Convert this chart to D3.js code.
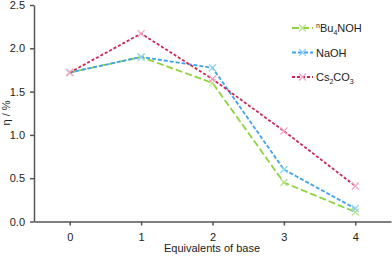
<!DOCTYPE html>
<html>
<head>
<meta charset="utf-8">
<script src="https://cdn.jsdelivr.net/npm/d3@7"></script>
<style>
  body { margin: 0; background: #fff; }
  svg { font-family: "Liberation Sans", Arial, sans-serif; }
  .axis path, .axis line { stroke: #555; stroke-width: 1.5; }
  .axis text { font-size: 11px; fill: #222; }
</style>
</head>
<body>
<svg id="chart" width="392" height="257"></svg>
<script>
// Data
const equivalents = [0, 1, 2, 3, 4];
const bu4noh = [1.72, 1.90, 1.60, 0.45, 0.11];
const naoh = [1.72, 1.90, 1.775, 0.60, 0.15];
const cs2co3 = [1.72, 2.17, 1.645, 1.045, 0.41];
const yTicks = [0, 0.5, 1.0, 1.5, 2.0, 2.5];

const series = [
  { name: "Bu4NOH", values: bu4noh, color: "#8ed43c", marker: "#b8e48a", dash: "7,3" },
  { name: "NaOH", values: naoh, color: "#3ea2ee", marker: "#8fd4f8", dash: "4,2" },
  { name: "Cs2CO3", values: cs2co3, color: "#d22252", marker: "#f2a2c2", dash: "3,2" }
];

const svg = d3.select("#chart");

// Scales
const x = d3.scaleLinear().domain([-0.5, 4.5]).range([34, 391]);
const y = d3.scaleLinear().domain([0, 2.5]).range([221.5, 5]);

// Axes
svg.append("g")
  .attr("class", "axis")
  .attr("transform", `translate(0,${y(0)})`)
  .call(d3.axisBottom(x).tickValues(equivalents).tickFormat(d3.format("d")).tickSize(4).tickSizeOuter(0).tickPadding(8));

svg.append("g")
  .attr("class", "axis")
  .attr("transform", `translate(${x(-0.5)},0)`)
  .call(d3.axisLeft(y).tickValues(yTicks).tickFormat(d3.format(".1f")).tickSize(4).tickSizeOuter(0).tickPadding(5));

// Axis titles
svg.append("text")
  .attr("x", 212)
  .attr("y", 252)
  .attr("text-anchor", "middle")
  .attr("font-size", 11)
  .attr("fill", "#222")
  .text("Equivalents of base");

svg.append("text")
  .attr("transform", "translate(10,113) rotate(-90)")
  .attr("text-anchor", "middle")
  .attr("font-size", 11)
  .attr("fill", "#222")
  .text("η / %");

// Lines and markers
const line = d3.line()
  .x((d, i) => x(equivalents[i]))
  .y(d => y(d));

const cross = 3.5;

series.forEach(s => {
  svg.append("path")
    .datum(s.values)
    .attr("fill", "none")
    .attr("stroke", s.color)
    .attr("stroke-width", 1.8)
    .attr("stroke-dasharray", s.dash)
    .attr("d", line);

  const g = svg.append("g");
  s.values.forEach((v, i) => {
    const cx = x(equivalents[i]), cy = y(v);
    g.append("path")
      .attr("d", `M${cx - cross},${cy - cross}L${cx + cross},${cy + cross}M${cx - cross},${cy + cross}L${cx + cross},${cy - cross}`)
      .attr("stroke", s.marker)
      .attr("stroke-width", 1.2)
      .attr("fill", "none");
  });
});

// Legend
const legend = svg.append("g");
series.forEach((s, i) => {
  const ly = 28 + i * 24.5;
  legend.append("line")
    .attr("x1", 292).attr("x2", 313)
    .attr("y1", ly).attr("y2", ly)
    .attr("stroke", s.color)
    .attr("stroke-width", 1.8)
    .attr("stroke-dasharray", s.dash);
  legend.append("path")
    .attr("d", `M${302.5 - cross},${ly - cross}L${302.5 + cross},${ly + cross}M${302.5 - cross},${ly + cross}L${302.5 + cross},${ly - cross}`)
    .attr("stroke", s.marker)
    .attr("stroke-width", 1.2);
});

const labelStyle = t => t.attr("x", 316).attr("font-size", 11).attr("fill", "#222");

const t0 = legend.append("text").call(labelStyle).attr("y", 32);
t0.append("tspan").attr("font-size", 7).attr("dy", -4).text("n");
t0.append("tspan").attr("dy", 4).text("Bu");
t0.append("tspan").attr("font-size", 7).attr("dy", 3).text("4");
t0.append("tspan").attr("dy", -3).text("NOH");

legend.append("text").call(labelStyle).attr("y", 56.5).text("NaOH");

const t2 = legend.append("text").call(labelStyle).attr("y", 81);
t2.append("tspan").text("Cs");
t2.append("tspan").attr("font-size", 7).attr("dy", 3).text("2");
t2.append("tspan").attr("dy", -3).text("CO");
t2.append("tspan").attr("font-size", 7).attr("dy", 3).text("3");
</script>
</body>
</html>
